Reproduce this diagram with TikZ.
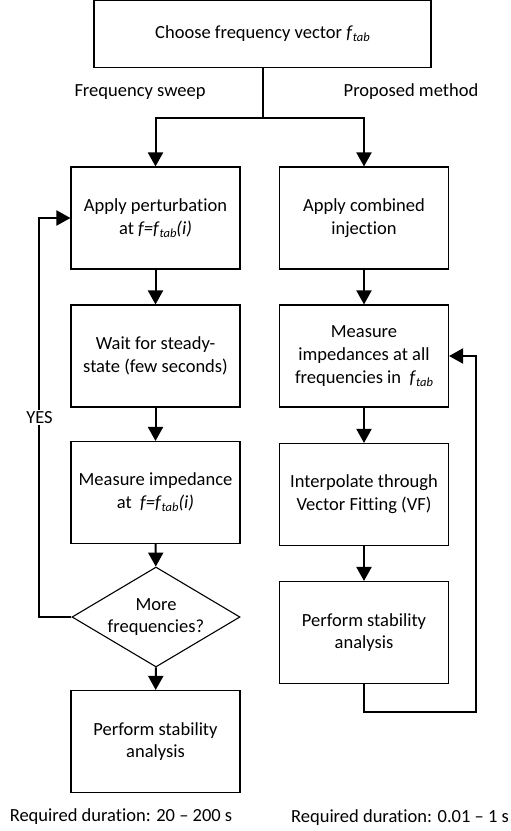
\documentclass[tikz,border=0pt]{standalone}
\usepackage{fontspec}
\setmainfont{Carlito}[Ligatures=CommonOff]
\usetikzlibrary{arrows.meta,shapes.geometric}
\newcommand{\ftab}{\textit{f}\raisebox{-0.35ex}{\fontsize{12.5}{12.5}\selectfont\itshape tab}}

\begin{document}
\begin{tikzpicture}[
  x=1pt, y=-1pt,
  every node/.style={font=\fontsize{18.5}{22.7}\selectfont, align=center},
  box/.style={draw, line width=1.1pt, minimum width=169pt, minimum height=102pt, inner sep=2pt},
  decision/.style={diamond, draw, line width=1.1pt, minimum width=168pt, minimum height=100pt, inner sep=0pt},
  flow/.style={line width=2pt, -{Triangle[length=14pt,width=15pt]}},
  link/.style={line width=2pt}
]
  \useasboundingbox (0,0) rectangle (511,831);

  % Start
  \node[box, minimum width=337pt, minimum height=67pt] (choose) at (262.5,34) {Choose frequency vector \ftab};
  \node (sweep) at (140,92) {Frequency sweep};
  \node (proposed) at (411,92) {Proposed method};

  % Frequency sweep
  \node[box] (perturb) at (155.5,218) {Apply perturbation\\at \textit{f=}\ftab\textit{(i)}};
  \node[box] (wait) at (155.5,356) {Wait for steady-\\state (few seconds)};
  \node[box] (measure) at (155.5,492.5) {Measure impedance\\at \ \textit{f=}\ftab\textit{(i)}};
  \node[decision] (more) at (156,617) {};
  \node (moretxt) at (more.center) {More\\frequencies?};
  \node[box] (stabL) at (155.5,741.5) {Perform stability\\analysis};

  % Proposed method
  \node[box] (inject) at (364,218) {Apply combined\\injection};
  \node[box] (measall) at (364,356) {Measure\\impedances at all\\frequencies in \ \ftab};
  \node[box] (vf) at (364,494.5) {Interpolate through\\Vector Fitting (VF)};
  \node[box] (stabR) at (364,632.5) {Perform stability\\analysis};

  % Durations
  \node (durL) at (121,817) {Required duration: 20 -- 200 s};
  \node (durR) at (400,818) {Required duration: 0.01 -- 1 s};

  % Connectors
  \coordinate (split) at ([yshift=-50pt]choose.south);
  \draw[link] (choose.south) -- (split);
  \draw[flow] (split) -| (perturb.north);
  \draw[flow] (split) -| (inject.north);

  \draw[flow] (perturb) -- (wait);
  \draw[flow] (wait) -- (measure);
  \draw[flow] (measure) -- (more);
  \draw[flow] (more) -- (stabL);
  \draw[flow] (more.west) -- ++(-32,0) |- node[pos=0.25, fill=white, inner sep=1pt] (yes) {YES} (perturb.west);

  \draw[flow] (inject) -- (measall);
  \draw[flow] (measall) -- (vf);
  \draw[flow] (vf) -- (stabR);
  \draw[flow] (stabR.south) |- ++(112,28) |- (measall.east);
\end{tikzpicture}
\end{document}
